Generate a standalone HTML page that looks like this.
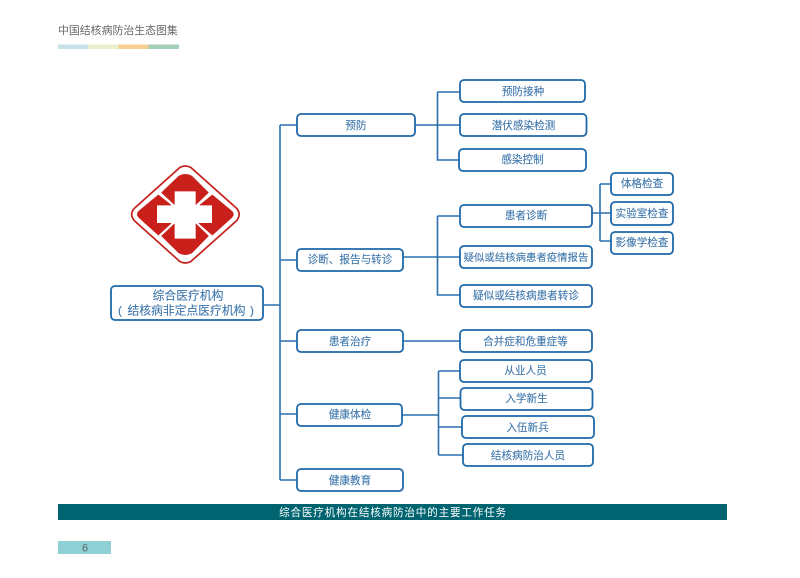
<!DOCTYPE html>
<html lang="zh">
<head>
<meta charset="utf-8">
<title>综合医疗机构在结核病防治中的主要工作任务</title>
<style>
html,body{margin:0;padding:0;background:#fff;width:800px;height:578px;overflow:hidden}
svg{display:block}
text{font-family:"Liberation Sans","Noto Sans CJK SC",sans-serif}
.b{fill:#fff;stroke:#1f68aa;stroke-width:1.8}
.l{fill:none;stroke:#2a70ad;stroke-width:1.6}
.t{fill:#3f77ac;stroke:#3f77ac;stroke-width:.12;font-size:10.6px;text-anchor:middle}
.m{fill:#3f77ac;stroke:#3f77ac;stroke-width:.12;font-size:11.8px;text-anchor:middle}
</style>
</head>
<body>
<svg width="800" height="578" viewBox="0 0 800 578" xmlns="http://www.w3.org/2000/svg">
<text x="58" y="34" font-size="10.9" fill="#666">中国结核病防治生态图集</text>
<rect x="58" y="44.500" width="30" height="4.500" fill="#c5e3e8"/>
<rect x="88" y="44.500" width="30.500" height="4.500" fill="#e8f1cb"/>
<rect x="118.500" y="44.500" width="30" height="4.500" fill="#f8cf93"/>
<rect x="148.500" y="44.500" width="30.500" height="4.500" fill="#a3cfb7"/>

<g transform="translate(125 160) scale(.33333)">
<path d="M165 22Q181 14 197 22L335 145Q350 163 335 182L197 305Q181 313 165 305L28 182Q12 163 28 145Z" fill="#fff" stroke="#c4201c" stroke-width="5"/>
<g fill="#c9201c" stroke="#c9201c" stroke-width="2" stroke-linejoin="round">
<path d="M110 98L162 48Q181 38 200 48L250 98L213 133V93H148V133Z"/>
<path d="M225 135L262 105L320 153Q330 163 320 173L262 225L222 190H262V135Z"/>
<path d="M110 228L162 279Q181 289 200 279L250 228L213 192V237H148V192Z"/>
<path d="M138 135L100 105L42 153Q32 163 42 173L100 225L138 190H95V135Z"/>
</g>
</g>

<g class="l">
<path d="M263 305H280M280 125V480M280 125H297M280 260H297M280 341H297M280 414H297M280 480H297"/>
<path d="M415 125H460M437.500 92H460M437.500 92V160H460"/>
<path d="M403 257H460M437.500 216H460M437.500 216V295H460"/>
<path d="M592 213H611M600 184V241M600 184H611M600 241H611"/>
<path d="M403 341H460"/>
<path d="M402 415H438.500M438.500 371V455M438.500 371H460M438.500 398H460M438.500 427H462M438.500 455H463"/>
</g>

<g class="b">
<rect x="111" y="286" width="152" height="34" rx="4"/>
<rect x="297" y="114" width="118" height="22" rx="4"/>
<rect x="297" y="249" width="106" height="22" rx="4"/>
<rect x="297" y="330" width="106" height="22" rx="4"/>
<rect x="297" y="404" width="105" height="22" rx="4"/>
<rect x="297" y="469" width="106" height="22" rx="4"/>
<rect x="460" y="80" width="125" height="22" rx="4"/>
<rect x="460" y="114" width="126.500" height="22" rx="4"/>
<rect x="459" y="149" width="127" height="22" rx="4"/>
<rect x="460" y="205" width="132" height="22" rx="4"/>
<rect x="460" y="246" width="132" height="22" rx="4"/>
<rect x="460" y="285" width="132" height="22" rx="4"/>
<rect x="611" y="173" width="62" height="22" rx="4"/>
<rect x="611" y="202" width="62" height="23" rx="4"/>
<rect x="611" y="232" width="62" height="22" rx="4"/>
<rect x="460" y="330" width="132" height="22" rx="4"/>
<rect x="460" y="360" width="132" height="22" rx="4"/>
<rect x="460.500" y="388" width="132" height="22" rx="4"/>
<rect x="462" y="416" width="132" height="22" rx="4"/>
<rect x="463" y="444" width="130" height="22" rx="4"/>
</g>

<text class="m" x="188" y="299.500">综合医疗机构</text>
<text class="m" x="120" y="314.500">(</text>
<text class="m" x="186.500" y="314.500">结核病非定点医疗机构</text>
<text class="m" x="252" y="314.500">)</text>
<text class="t" x="356" y="129">预防</text>
<text class="t" x="350" y="263">诊断、报告与转诊</text>
<text class="t" x="350" y="345">患者治疗</text>
<text class="t" x="350" y="418">健康体检</text>
<text class="t" x="350" y="484">健康教育</text>
<text class="t" x="523" y="95">预防接种</text>
<text class="t" x="523.500" y="129">潜伏感染检测</text>
<text class="t" x="522.500" y="163">感染控制</text>
<text class="t" x="526" y="219">患者诊断</text>
<text class="t" x="526" y="261" style="font-size:10.4px">疑似或结核病患者疫情报告</text>
<text class="t" x="526" y="299">疑似或结核病患者转诊</text>
<text class="t" x="642" y="187">体格检查</text>
<text class="t" x="642" y="217">实验室检查</text>
<text class="t" x="642" y="246">影像学检查</text>
<text class="t" x="525.500" y="345">合并症和危重症等</text>
<text class="t" x="525.500" y="374">从业人员</text>
<text class="t" x="526.500" y="402">入学新生</text>
<text class="t" x="527.500" y="431">入伍新兵</text>
<text class="t" x="528" y="459">结核病防治人员</text>

<rect x="58" y="504" width="669" height="16" fill="#006470"/>
<text x="393" y="516" font-size="10.600" letter-spacing=".8" fill="#fff" text-anchor="middle">综合医疗机构在结核病防治中的主要工作任务</text>
<rect x="58" y="541" width="53" height="13" fill="#8fd0d5"/>
<text x="85" y="551.500" font-size="11" fill="#5a6a6c" text-anchor="middle">6</text>
</svg>
</body>
</html>
